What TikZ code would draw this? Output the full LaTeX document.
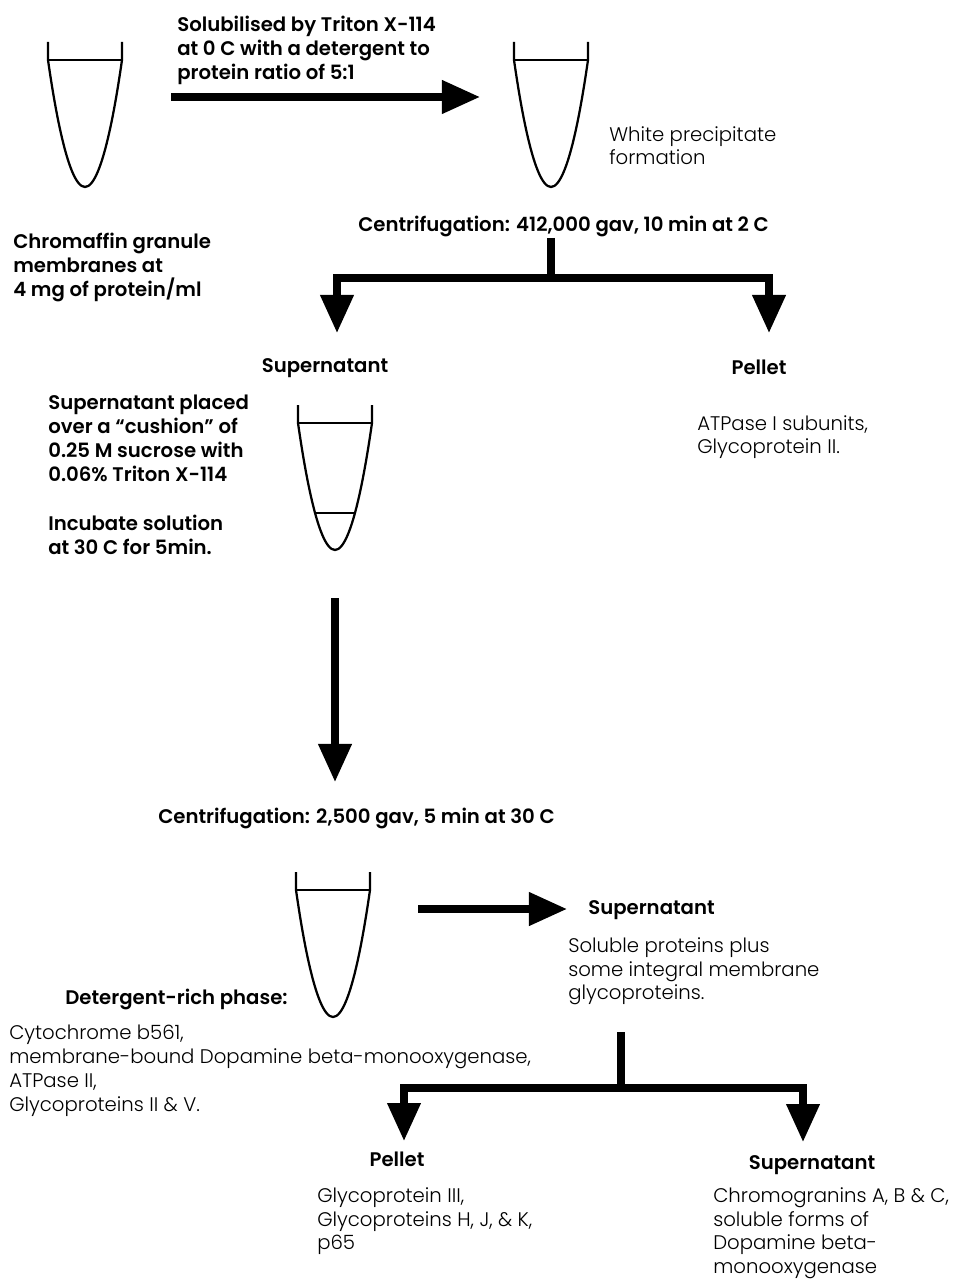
\documentclass[tikz,border=0pt]{standalone}
\usepackage{fontspec}
\IfFontExistsTF{Poppins Light}
  {\IfFontExistsTF{Poppins SemiBold}
    {\setmainfont{Poppins Light}[BoldFont={Poppins SemiBold}]}
    {\setmainfont{Poppins}}}
  {\setmainfont{Poppins}}
\usetikzlibrary{arrows.meta}
\tikzset{
  bigarrow/.style={line width=0.18cm, -{Triangle[length=0.95cm,width=0.8cm]}},
  stem/.style={line width=0.18cm},
  tubeline/.style={line width=1.6pt},
  meniscus/.style={line width=1pt},
  headtxt/.style={font=\fontsize{14}{17}\selectfont\bfseries, inner sep=0pt, align=left},
  bodytxt/.style={font=\fontsize{14}{17}\selectfont, inner sep=0pt, align=left},
  pics/tube/.style={code={
    \draw[tubeline] (-37,0) -- (-37,18) parabola bend (0,145) (37,18) -- (37,0);
    \draw[meniscus] (-37,18) -- (37,18);
  }}
}

\begin{document}
\begin{tikzpicture}[x=0.025cm, y=-0.025cm]
    \useasboundingbox (0,0) rectangle (965,1279);
    % tubes
    \pic at (85,42) {tube};
    \pic at (551,42) {tube};
    \pic at (335,405) {tube};
    \draw[meniscus] (315,513) -- (355,513);
    \pic at (333,872) {tube};
    % texts
    \node[headtxt, anchor=north west] (solub) at (177,16) {Solubilised by Triton X-114\\at 0 C with a detergent to\\protein ratio of 5:1};
    \node[bodytxt, anchor=north west] (whiteppt) at (609,126) {White precipitate\\formation};
    \node[headtxt, anchor=north west] (cent1) at (358,216) {Centrifugation: 412,000 gav, 10 min at 2 C};
    \node[headtxt, anchor=north west] (chrom) at (13,233) {Chromaffin granule\\membranes at\\4 mg of protein/ml};
    \node[headtxt, anchor=north] (super1) at (325,358) {Supernatant};
    \node[headtxt, anchor=north] (pellet1) at (759,360) {Pellet};
    \node[bodytxt, anchor=north west] (atpase) at (697,415) {ATPase I subunits,\\Glycoprotein II.};
    \node[headtxt, anchor=north west] (cushion) at (48,395) {Supernatant placed\\over a ``cushion'' of\\0.25 M sucrose with\\0.06\% Triton X-114};
    \node[headtxt, anchor=north west] (incub) at (48,515) {Incubate solution\\at 30 C for 5min.};
    \node[headtxt, anchor=north west] (cent2) at (158,808) {Centrifugation: 2,500 gav, 5 min at 30 C};
    \node[headtxt, anchor=north west] (super2) at (588,900) {Supernatant};
    \node[bodytxt, anchor=north west] (soluble) at (568,937) {Soluble proteins plus\\some integral membrane\\glycoproteins.};
    \node[headtxt, anchor=north west] (detrich) at (65,989) {Detergent-rich phase:};
    \node[bodytxt, anchor=north west] (cyto) at (9,1025) {Cytochrome b561,\\membrane-bound Dopamine beta-monooxygenase,\\ATPase II,\\Glycoproteins II \& V.};
    \node[headtxt, anchor=north] (pellet2) at (397,1152) {Pellet};
    \node[headtxt, anchor=north] (super3) at (812,1155) {Supernatant};
    \node[bodytxt, anchor=north west] (glyco) at (317,1187) {Glycoprotein III,\\Glycoproteins H, J, \& K,\\p65};
    \node[bodytxt, anchor=north west] (chromog) at (713,1187) {Chromogranins A, B \& C,\\soluble forms of\\Dopamine beta-\\monooxygenase};
    % arrows
    \coordinate (solstart) at (171,97);
    \coordinate (solend) at (480,97);
    \draw[bigarrow] (solstart) -- (solend);
    \coordinate (fork1top) at (551,238);
    \coordinate (fork1) at (551,278);
    \coordinate (super1tip) at (337,333);
    \coordinate (pellet1tip) at (769,333);
    \draw[stem] (fork1top) -- (fork1);
    \draw[bigarrow] (fork1) -| (super1tip);
    \draw[bigarrow] (fork1) -| (pellet1tip);
    \coordinate (incubstart) at (335,598);
    \coordinate (incubend) at (335,782);
    \draw[bigarrow] (incubstart) -- (incubend);
    \coordinate (detstart) at (418,909);
    \coordinate (detend) at (567,909);
    \draw[bigarrow] (detstart) -- (detend);
    \coordinate (fork2top) at (621,1032);
    \coordinate (fork2) at (621,1088);
    \coordinate (pellet2tip) at (404,1141);
    \coordinate (super3tip) at (803,1142);
    \draw[stem] (fork2top) -- (fork2);
    \draw[bigarrow] (fork2) -| (pellet2tip);
    \draw[bigarrow] (fork2) -| (super3tip);
\end{tikzpicture}
\end{document}
